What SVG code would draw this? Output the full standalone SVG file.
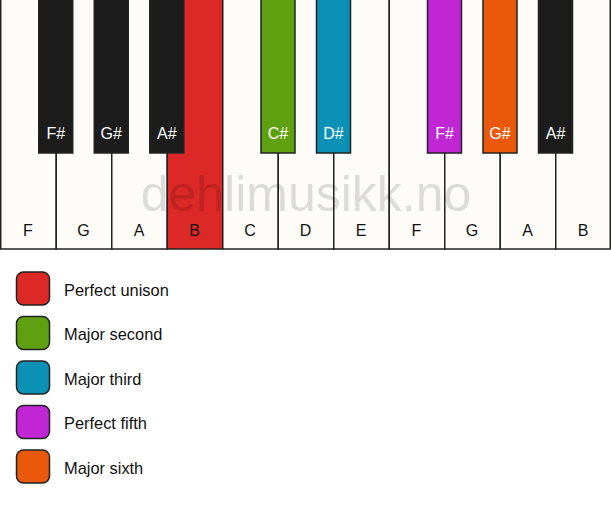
<svg xmlns="http://www.w3.org/2000/svg" width="611" height="506" viewBox="0 0 611 506">
<style>
.w{fill:#fdfcf8;stroke:#222;stroke-width:1.5}
.b{stroke:#222;stroke-width:1.5}
.lw{font-family:"Liberation Sans",Arial,sans-serif;font-size:16px;fill:#111;text-anchor:middle}
.lb{font-family:"Liberation Sans",Arial,sans-serif;font-size:16px;fill:#fff;text-anchor:middle}
.lg{font-family:"Liberation Sans",Arial,sans-serif;font-size:16.4px;fill:#111}
.sq{stroke:#222;stroke-width:1.5}
</style>
<rect width="611" height="506" fill="#ffffff"/>
<g id="white-keys">
<g id="key-F1"><rect class="w" x="0.75" y="-1" width="55.5" height="250"/><text class="lw" x="28" y="236">F</text></g>
<g id="key-G1"><rect class="w" x="56.25" y="-1" width="55.5" height="250"/><text class="lw" x="83.5" y="236">G</text></g>
<g id="key-A1"><rect class="w" x="111.75" y="-1" width="55.5" height="250"/><text class="lw" x="139" y="236">A</text></g>
<g id="key-B1"><rect class="w" x="167.25" y="-1" width="55.5" height="250" style="fill:#dd2828"/><text class="lw" x="194.5" y="236">B</text></g>
<g id="key-C"><rect class="w" x="222.75" y="-1" width="55.5" height="250"/><text class="lw" x="250" y="236">C</text></g>
<g id="key-D"><rect class="w" x="278.25" y="-1" width="55.5" height="250"/><text class="lw" x="305.5" y="236">D</text></g>
<g id="key-E"><rect class="w" x="333.75" y="-1" width="55.5" height="250"/><text class="lw" x="361" y="236">E</text></g>
<g id="key-F2"><rect class="w" x="389.25" y="-1" width="55.5" height="250"/><text class="lw" x="416.5" y="236">F</text></g>
<g id="key-G2"><rect class="w" x="444.75" y="-1" width="55.5" height="250"/><text class="lw" x="472" y="236">G</text></g>
<g id="key-A2"><rect class="w" x="500.25" y="-1" width="55.5" height="250"/><text class="lw" x="527.5" y="236">A</text></g>
<g id="key-B2"><rect class="w" x="555.75" y="-1" width="54.5" height="250"/><text class="lw" x="583" y="236">B</text></g>
</g>
<g id="black-keys">
<g id="key-Fs1"><rect class="b" x="38.75" y="-1" width="34" height="154" fill="#1c1c1c"/><text class="lb" x="55.75" y="139">F#</text></g>
<g id="key-Gs1"><rect class="b" x="94.25" y="-1" width="34" height="154" fill="#1c1c1c"/><text class="lb" x="111.25" y="139">G#</text></g>
<g id="key-As1"><rect class="b" x="149.75" y="-1" width="34" height="154" fill="#1c1c1c"/><text class="lb" x="166.75" y="139">A#</text></g>
<g id="key-Cs"><rect class="b" x="261" y="-1" width="34" height="154" fill="#5fa010"/><text class="lb" x="278" y="139">C#</text></g>
<g id="key-Ds"><rect class="b" x="316.5" y="-1" width="34" height="154" fill="#0b90b6"/><text class="lb" x="333.5" y="139">D#</text></g>
<g id="key-Fs2"><rect class="b" x="427.5" y="-1" width="34" height="154" fill="#c026d3"/><text class="lb" x="444.5" y="139">F#</text></g>
<g id="key-Gs2"><rect class="b" x="483" y="-1" width="34" height="154" fill="#ea580c"/><text class="lb" x="500" y="139">G#</text></g>
<g id="key-As2"><rect class="b" x="538.5" y="-1" width="34" height="154" fill="#1c1c1c"/><text class="lb" x="555.5" y="139">A#</text></g>
</g>
<text id="watermark" x="306" y="211" font-family="'Liberation Sans',Arial,sans-serif" font-size="50" text-anchor="middle" fill="#000" fill-opacity="0.13">dehlimusikk.no</text>
<g id="legend">
<g id="leg-unison"><rect class="sq" x="16.5" y="272" width="33" height="33" rx="7" fill="#dd2828"/><text class="lg" x="64" y="295.5">Perfect unison</text></g>
<g id="leg-second"><rect class="sq" x="16.5" y="316.5" width="33" height="33" rx="7" fill="#5fa010"/><text class="lg" x="64" y="340">Major second</text></g>
<g id="leg-third"><rect class="sq" x="16.5" y="361" width="33" height="33" rx="7" fill="#0b90b6"/><text class="lg" x="64" y="384.5">Major third</text></g>
<g id="leg-fifth"><rect class="sq" x="16.5" y="405.5" width="33" height="33" rx="7" fill="#c026d3"/><text class="lg" x="64" y="429">Perfect fifth</text></g>
<g id="leg-sixth"><rect class="sq" x="16.5" y="450" width="33" height="33" rx="7" fill="#ea580c"/><text class="lg" x="64" y="473.5">Major sixth</text></g>
</g>
</svg>
